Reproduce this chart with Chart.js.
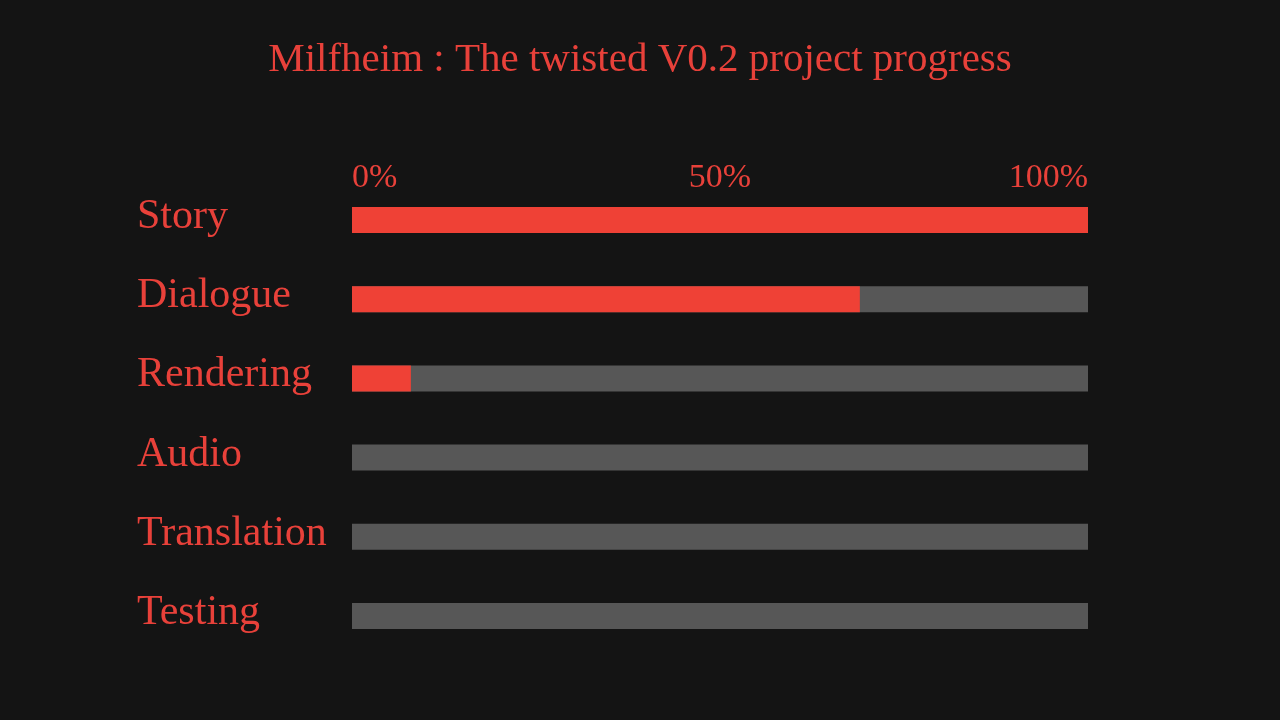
<!DOCTYPE html>
<html>
<head>
<meta charset="utf-8">
<script src="https://cdn.jsdelivr.net/npm/chart.js@4.4.1/dist/chart.umd.min.js"></script>
<style>
  html, body { margin: 0; padding: 0; background: #141414; }
  #wrap { width: 1280px; height: 720px; }
</style>
</head>
<body>
<div id="wrap"><canvas id="c" width="1280" height="720"></canvas></div>
<script>
const categories = ["Story", "Dialogue", "Rendering", "Audio", "Translation", "Testing"];
const progressValues = [100, 69, 8, 0, 0, 0];
const trackValues = [100, 100, 100, 100, 100, 100];
const tickValues = [0, 50, 100];
const chartTitle = "Milfheim : The twisted V0.2 project progress";

const RED = "#EF4136";
const TEXT = "#E8413A";
const GRAY = "#575757";
const FONT = "'Liberation Serif', 'DejaVu Serif', serif";

new Chart(document.getElementById("c"), {
  type: "bar",
  data: {
    labels: categories,
    datasets: [
      { label: "Progress", data: progressValues, backgroundColor: RED, grouped: false, barThickness: 26, borderWidth: 0, inflateAmount: 0, clip: false },
      { label: "Track", data: trackValues, backgroundColor: GRAY, grouped: false, barThickness: 26, borderWidth: 0, inflateAmount: 0, clip: false }
    ]
  },
  options: {
    indexAxis: "y",
    responsive: false,
    animation: false,
    devicePixelRatio: 1,
    layout: { padding: { left: 137, right: 192, top: 0, bottom: 104 } },
    plugins: {
      legend: { display: false },
      tooltip: { enabled: false },
      title: {
        display: true,
        text: chartTitle,
        color: TEXT,
        font: { family: FONT, size: 41, weight: "normal" },
        padding: { top: 36, bottom: 50 }
      }
    },
    scales: {
      x: {
        position: "top",
        min: 0,
        max: 100,
        afterBuildTicks: (scale) => { scale.ticks = tickValues.map(v => ({ value: v })); },
        grid: { display: false, drawTicks: false },
        border: { display: false },
        ticks: {
          color: TEXT,
          align: "inner",
          padding: 22,
          font: { family: FONT, size: 34 },
          callback: (v) => v + "%"
        }
      },
      y: {
        offset: false,
        grid: { display: false, drawTicks: false, offset: false },
        border: { display: false },
        afterFit: (scale) => { scale.width = 215; },
        ticks: {
          color: TEXT,
          crossAlign: "far",
          padding: 0,
          labelOffset: -3,
          font: { family: FONT, size: 42 }
        }
      }
    }
  },
  plugins: [{
    id: "bg",
    beforeDraw(chart) {
      const ctx = chart.ctx;
      ctx.save();
      ctx.fillStyle = "#141414";
      ctx.fillRect(0, 0, chart.width, chart.height);
      ctx.restore();
    },
    afterLayout(chart) {
      const t = chart.titleBlock;
      if (t) { t.left = 0; t.right = chart.width; t.width = chart.width; }
    }
  }]
});
</script>
</body>
</html>
